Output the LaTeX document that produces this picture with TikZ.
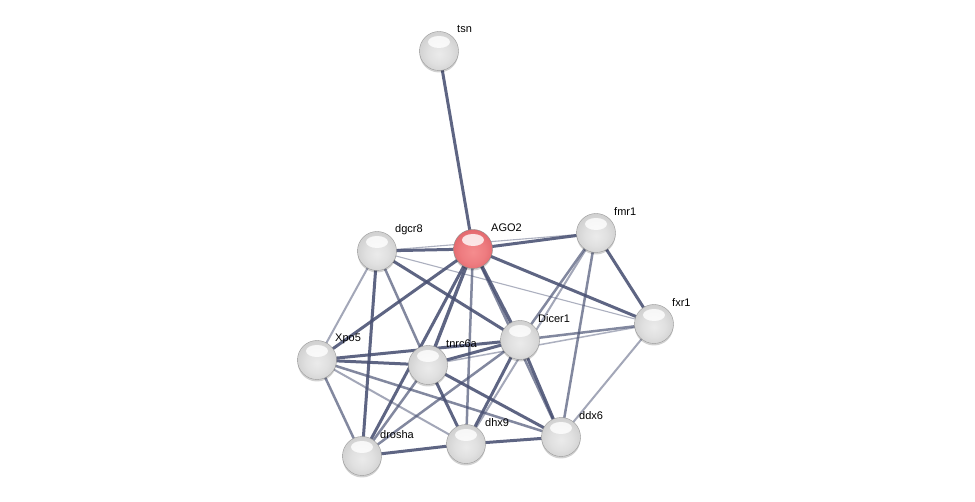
\documentclass[tikz,border=0pt]{standalone}
\usepackage{fontspec}
\setmainfont{Liberation Sans}
\usetikzlibrary{backgrounds,shadows,calc}
\pgfdeclareradialshading{greysphere}{\pgfpoint{0bp}{-4bp}}{%
  color(0bp)=(white!92!black); color(14bp)=(white!88!black); color(30bp)=(white!80!black);
  color(42bp)=(white!72!black); color(48bp)=(white!60!black); color(60bp)=(white!55!black)}
\pgfdeclareradialshading{redsphere}{\pgfpoint{0bp}{-4bp}}{%
  color(0bp)=(rgb,255:red,245;green,140;blue,142); color(16bp)=(rgb,255:red,238;green,124;blue,128);
  color(32bp)=(rgb,255:red,222;green,96;blue,102); color(44bp)=(rgb,255:red,190;green,70;blue,76);
  color(48bp)=(rgb,255:red,160;green,60;blue,66); color(60bp)=(rgb,255:red,150;green,55;blue,60)}
\definecolor{edgecol}{RGB}{72,80,114}
\begin{document}
\begin{tikzpicture}[x=1pt,y=-1pt,
  prot/.style={circle,minimum size=39pt,inner sep=0pt,shading=greysphere,draw=black!40,line width=0.4pt,
    drop shadow={shadow xshift=0pt,shadow yshift=-2pt,opacity=0.18,fill=black},
    path picture={\fill[white,opacity=0.8] ($(path picture bounding box.center)+(0pt,9pt)$) ellipse (11pt and 6pt);}},
  protred/.style={prot,shading=redsphere,draw=black!45},
  lab/.style={anchor=west,font=\fontsize{11}{13}\selectfont,inner sep=1pt},
  es/.style={draw=edgecol,line width=3pt,opacity=0.88},
  em/.style={draw=edgecol,line width=2.5pt,opacity=0.68},
  el/.style={draw=edgecol,line width=2pt,opacity=0.5},
  et/.style={draw=edgecol,line width=1.1pt,opacity=0.45}]
\useasboundingbox (0,0) rectangle (975,502);
\node[prot] (tsn) at (439,51) {};
\node[protred] (AGO2) at (473,249) {};
\node[prot] (dgcr8) at (377,251) {};
\node[prot] (fmr1) at (596,233) {};
\node[prot] (fxr1) at (654,324) {};
\node[prot] (Dicer1) at (520,340) {};
\node[prot] (Xpo5) at (317,360) {};
\node[prot] (tnrc6a) at (428,365) {};
\node[prot] (ddx6) at (561,437) {};
\node[prot] (dhx9) at (466,444) {};
\node[prot] (drosha) at (362,456) {};
\node[lab] (ltsn) at ($(tsn)+(17,-22)$) {tsn};
\node[lab] (lAGO2) at ($(AGO2)+(17,-21)$) {AGO2};
\node[lab] (ldgcr8) at ($(dgcr8)+(17,-21)$) {dgcr8};
\node[lab] (lfmr1) at ($(fmr1)+(17,-21)$) {fmr1};
\node[lab] (lfxr1) at ($(fxr1)+(17,-21)$) {fxr1};
\node[lab] (lDicer1) at ($(Dicer1)+(17,-21)$) {Dicer1};
\node[lab] (lXpo5) at ($(Xpo5)+(17,-21)$) {Xpo5};
\node[lab] (ltnrc6a) at ($(tnrc6a)+(17,-21)$) {tnrc6a};
\node[lab] (lddx6) at ($(ddx6)+(17,-21)$) {ddx6};
\node[lab] (ldhx9) at ($(dhx9)+(18,-21)$) {dhx9};
\node[lab] (ldrosha) at ($(drosha)+(17,-21)$) {drosha};
\begin{scope}[on background layer]
\fill[white] (0,0) rectangle (975,502);
\draw[es] (tsn.center) -- (AGO2.center);
\draw[es] (AGO2.center) -- (dgcr8.center);
\draw[es] (AGO2.center) -- (fmr1.center);
\draw[et] (dgcr8.center) -- (fmr1.center);
\draw[es] (AGO2.center) -- (fxr1.center);
\draw[es,line width=3.4pt] (AGO2.center) -- (Dicer1.center);
\draw[em] (AGO2.center) -- (ddx6.center);
\draw[es,line width=3.4pt] (AGO2.center) -- (tnrc6a.center);
\draw[em] (AGO2.center) -- (dhx9.center);
\draw[es] (AGO2.center) -- (drosha.center);
\draw[es] (AGO2.center) -- (Xpo5.center);
\draw[et] (dgcr8.center) -- (fxr1.center);
\draw[es] (dgcr8.center) -- (Dicer1.center);
\draw[em] (dgcr8.center) -- (tnrc6a.center);
\draw[el] (dgcr8.center) -- (Xpo5.center);
\draw[es] (dgcr8.center) -- (drosha.center);
\draw[es] (fmr1.center) -- (fxr1.center);
\draw[em] (fmr1.center) -- (Dicer1.center);
\draw[el] (fmr1.center) -- (dhx9.center);
\draw[em] (fmr1.center) -- (ddx6.center);
\draw[em] (fxr1.center) -- (Dicer1.center);
\draw[et,line width=1.5pt] (fxr1.center) -- (tnrc6a.center);
\draw[el] (fxr1.center) -- (ddx6.center);
\draw[es] (Dicer1.center) -- (tnrc6a.center);
\draw[es] (Dicer1.center) -- (Xpo5.center);
\draw[es] (Dicer1.center) -- (ddx6.center);
\draw[es] (Dicer1.center) -- (dhx9.center);
\draw[em] (Dicer1.center) -- (drosha.center);
\draw[es] (Xpo5.center) -- (tnrc6a.center);
\draw[em] (Xpo5.center) -- (drosha.center);
\draw[el] (Xpo5.center) -- (dhx9.center);
\draw[em] (Xpo5.center) -- (ddx6.center);
\draw[em] (tnrc6a.center) -- (drosha.center);
\draw[es] (tnrc6a.center) -- (dhx9.center);
\draw[es] (tnrc6a.center) -- (ddx6.center);
\draw[es] (drosha.center) -- (dhx9.center);
\draw[es] (dhx9.center) -- (ddx6.center);
\end{scope}
\end{tikzpicture}
\end{document}
